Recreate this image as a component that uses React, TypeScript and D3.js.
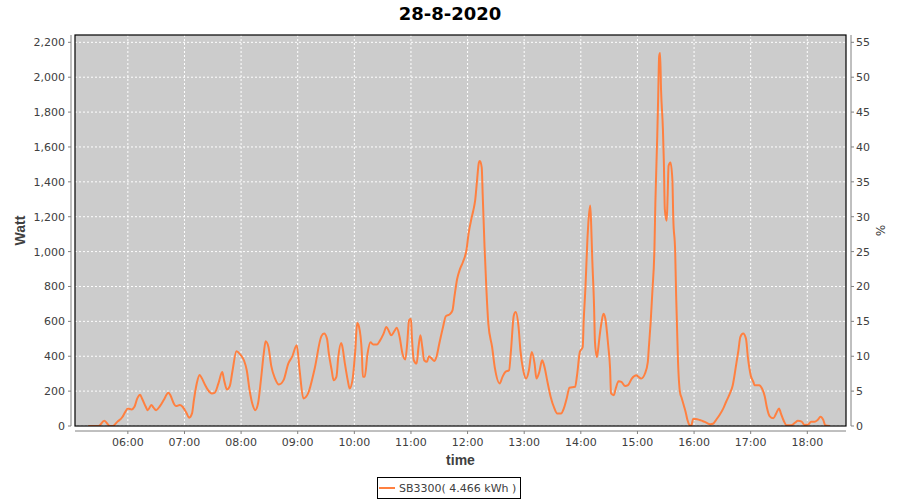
import React from "react";
import * as d3 from "d3";

const TITLE = "28-8-2020";
const SERIES_NAME = "SB3300( 4.466 kWh )";
const Y_LABEL = "Watt";
const Y2_LABEL = "%";
const X_LABEL = "time";

const X_START = "05:04";
const X_END = "18:41";
const Y_MAX = 2242;
const Y2_PER_W = 1 / 40; // % scale: 200 W == 5 %

const xTickLabels = ["06:00","07:00","08:00","09:00","10:00","11:00","12:00","13:00","14:00","15:00","16:00","17:00","18:00"];
const yTicks = [0,200,400,600,800,1000,1200,1400,1600,1800,2000,2200];
const y2Ticks = [0,5,10,15,20,25,30,35,40,45,50,55];

const times = [
"05:18","05:29","05:35","05:41","05:44","05:49","05:54","05:57","06:00","06:04","06:07","06:10","06:13","06:15","06:19","06:21","06:25","06:27","06:30","06:34","06:38","06:43","06:45","06:49","06:51","06:55","06:58",
"07:02","07:05","07:08","07:10","07:13","07:16","07:18","07:22","07:25","07:29","07:32","07:36","07:40","07:42","07:45","07:48","07:51","07:55","07:59",
"08:03","08:06","08:09","08:12","08:15","08:18","08:21","08:24","08:26","08:29","08:32","08:36","08:40","08:45","08:50","08:54","08:59",
"09:02","09:06","09:11","09:18","09:25","09:28","09:31","09:33","09:36","09:38","09:41","09:43","09:46","09:47","09:50","09:53","09:55","09:58",
"10:01","10:03","10:05","10:08","10:09","10:11","10:14","10:17","10:20","10:24","10:27","10:31","10:34","10:37","10:39","10:43","10:45","10:48","10:51","10:54","10:56","10:58",
"11:00","11:01","11:03","11:06","11:08","11:10","11:12","11:14","11:17","11:19","11:21","11:25","11:27","11:30","11:34","11:37","11:41","11:44","11:46","11:49","11:52","11:55","11:59",
"12:01","12:04","12:06","12:08","12:10","12:12","12:13","12:15","12:16","12:18","12:20","12:22","12:26","12:29","12:34","12:37","12:40","12:44","12:46","12:49","12:51","12:54","12:56","12:59",
"13:02","13:05","13:08","13:11","13:13","13:16","13:19","13:21","13:25","13:28","13:32","13:35","13:39","13:42","13:45","13:48","13:54","13:56","13:59",
"14:02","14:03","14:05","14:07","14:08","14:10","14:11","14:12","14:14","14:15","14:17","14:18","14:20","14:22","14:24","14:26","14:29","14:31","14:32","14:35","14:37","14:40","14:43","14:47","14:50","14:54","14:59",
"15:01","15:04","15:08","15:11","15:12","15:14","15:16","15:18","15:19","15:21","15:22","15:23","15:24","15:25","15:27","15:28","15:29","15:31","15:32","15:33","15:35","15:37","15:38","15:40","15:41","15:43","15:45","15:47","15:49","15:51","15:53","15:55","15:57","15:59",
"16:02","16:06","16:09","16:13","16:17","16:20","16:24","16:27","16:31","16:34","16:38","16:41","16:44","16:47","16:49","16:52","16:55","16:57",
"17:00","17:03","17:04","17:09","17:12","17:15","17:17","17:20","17:24","17:27","17:30","17:32","17:35","17:38","17:43","17:47","17:50","17:54","17:57",
"18:01","18:04","18:08","18:11","18:14","18:17","18:19","18:24"
];

const watts = [
0,0,30,0,0,25,50,78,100,95,110,158,179,158,110,91,120,107,91,114,149,190,177,126,114,120,110,
76,48,72,149,244,293,278,234,206,187,190,244,309,263,210,229,320,429,411,
377,320,206,126,91,130,263,415,486,453,343,272,238,263,358,396,463,
320,158,187,330,514,530,501,415,320,263,282,396,476,463,358,263,215,263,
434,590,568,415,282,282,415,480,467,467,488,530,568,539,520,549,564,510,415,381,472,606,
615,510,377,358,453,520,453,377,368,400,392,373,396,472,568,630,640,663,739,844,901,939,1015,
1101,1187,1234,1292,1406,1511,1520,1482,1330,1025,777,587,453,330,244,282,310,320,434,634,653,568,434,320,
272,320,425,358,272,310,377,349,244,168,101,72,72,101,158,219,225,291,425,
453,596,806,1072,1168,1265,1149,977,691,482,396,425,520,596,644,615,463,330,187,177,215,257,253,229,234,272,291,
282,272,301,368,444,596,787,1015,1282,1663,1892,2120,2139,1930,1701,1511,1244,1177,1320,1492,1511,1415,1187,996,749,368,196,158,120,82,34,6,0,40,
40,34,29,19,10,13,40,63,101,139,187,234,330,434,510,530,501,396,
291,250,234,234,215,168,110,57,44,72,101,72,30,4,4,19,30,25,6,
8,25,25,34,53,34,4,0
];

const parseT = (s: string) => {
  const [h, m] = s.split(":").map(Number);
  return new Date(2020, 7, 28, h, m);
};

const W = 900, H = 500;
const PL = 75, PR = 846, PT = 35, PB = 426;
const FONT = "'DejaVu Sans', sans-serif";
const LINE_COLOR = "#ff8040";

export default function App() {
  const x = d3.scaleTime().domain([parseT(X_START), parseT(X_END)]).range([PL, PR]);
  const y = d3.scaleLinear().domain([0, Y_MAX]).range([PB, PT]);
  const y2 = d3.scaleLinear().domain([0, Y_MAX * Y2_PER_W]).range([PB, PT]);

  const data = times.map((t, i) => ({ t: parseT(t), v: watts[i] }));
  const line = d3.line<{ t: Date; v: number }>()
    .x(d => x(d.t))
    .y(d => y(d.v))
    .curve(d3.curveMonotoneX);
  const fmt = d3.timeFormat("%H:%M");
  const xTicks = xTickLabels.map(parseT);
  const yFmt = d3.format(",");

  return (
    <svg width={W} height={H} style={{ position: "absolute", left: 0, top: 0, display: "block", background: "#fff" }}>
      <text x={450} y={20} textAnchor="middle" fontFamily={FONT} fontWeight="bold" fontSize={18} fill="#000">{TITLE}</text>

      <rect x={PL} y={PT} width={PR - PL} height={PB - PT} fill="#cccccc" />
      <clipPath id="plotclip"><rect x={PL} y={PT} width={PR - PL} height={PB - PT} /></clipPath>

      {xTicks.map((t, i) => (
        <line key={"gx" + i} x1={x(t)} x2={x(t)} y1={PT} y2={PB} stroke="#fff" strokeWidth={1} strokeDasharray="2,2" />
      ))}
      {yTicks.map((v, i) => (
        <line key={"gy" + i} x1={PL} x2={PR} y1={y(v)} y2={y(v)} stroke="#fff" strokeWidth={1} strokeDasharray="2,2" />
      ))}

      <path d={line(data) || ""} fill="none" stroke={LINE_COLOR} strokeWidth={2} strokeLinejoin="round" clipPath="url(#plotclip)" />

      <rect x={PL} y={PT} width={PR - PL} height={PB - PT} fill="none" stroke="#000" strokeWidth={1.2} />

      {/* left axis */}
      <line x1={71} x2={71} y1={PT} y2={PB} stroke="#808080" />
      {yTicks.map((v, i) => (
        <g key={"yl" + i}>
          <line x1={68} x2={71} y1={y(v)} y2={y(v)} stroke="#808080" />
          <text x={65} y={y(v) + 4} textAnchor="end" fontFamily={FONT} fontSize={11} fill="#404040">{yFmt(v)}</text>
        </g>
      ))}
      <text transform={`translate(25,${(PT + PB) / 2}) rotate(-90)`} textAnchor="middle" fontFamily="'Liberation Sans', sans-serif" fontWeight="bold" fontSize={14} fill="#404040">{Y_LABEL}</text>

      {/* right axis */}
      <line x1={851} x2={851} y1={PT} y2={PB} stroke="#808080" />
      {y2Ticks.map((v, i) => (
        <g key={"y2l" + i}>
          <line x1={851} x2={854} y1={y2(v)} y2={y2(v)} stroke="#808080" />
          <text x={856} y={y2(v) + 4} textAnchor="start" fontFamily={FONT} fontSize={11} fill="#404040">{v}</text>
        </g>
      ))}
      <text transform={`translate(876,${(PT + PB) / 2}) rotate(90)`} textAnchor="middle" fontFamily={FONT} fontSize={12} fill="#404040">{Y2_LABEL}</text>

      {/* bottom axis */}
      <line x1={PL} x2={PR} y1={431} y2={431} stroke="#808080" />
      {xTicks.map((t, i) => (
        <g key={"xl" + i}>
          <line x1={x(t)} x2={x(t)} y1={431} y2={434} stroke="#808080" />
          <text x={x(t)} y={446} textAnchor="middle" fontFamily={FONT} fontSize={11} fill="#404040">{fmt(t)}</text>
        </g>
      ))}
      <text x={(PL + PR) / 2} y={465} textAnchor="middle" fontFamily="'Liberation Sans', sans-serif" fontWeight="bold" fontSize={14} fill="#404040">{X_LABEL}</text>

      {/* legend */}
      <rect x={377.5} y={477.5} width={143} height={21} fill="#fff" stroke="#000" strokeWidth={1} />
      <line x1={379} x2={395} y1={488} y2={488} stroke={LINE_COLOR} strokeWidth={2} />
      <text x={399} y={492} fontFamily={FONT} fontSize={11} fill="#404040">{SERIES_NAME}</text>
    </svg>
  );
}
